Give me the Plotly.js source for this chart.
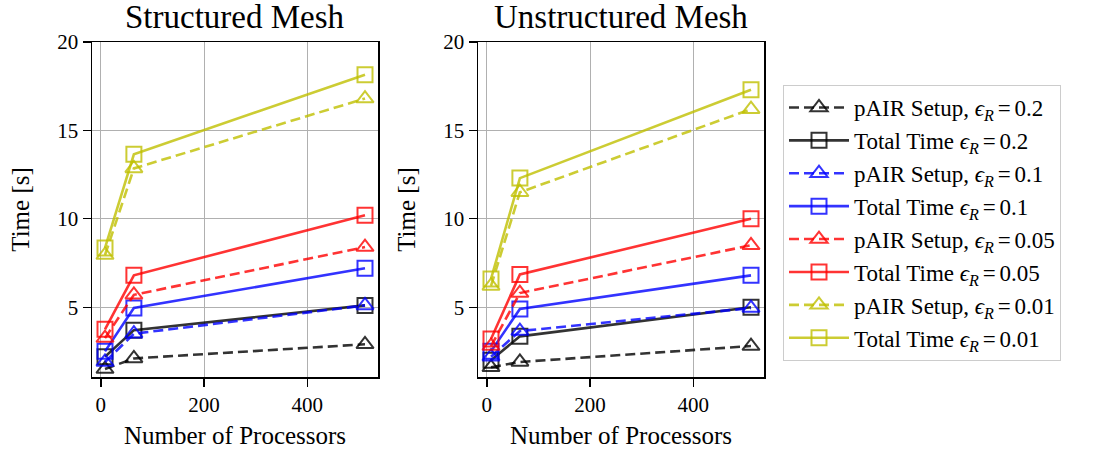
<!DOCTYPE html>
<html>
<head>
<meta charset="utf-8">
<script src="https://cdn.plot.ly/plotly-3.0.1.min.js"></script>
<style>html,body{margin:0;padding:0;background:#fff;}#chart{width:1098px;height:454px;}</style>
</head>
<body>
<div id="chart"></div>
<script>
// Data
const processors = [8, 64, 512];
const epsilons = ["0.2", "0.1", "0.05", "0.01"];

// Structured mesh
const structPairSetup = {
  "0.2":  [1.5, 2.1, 2.9],
  "0.1":  [1.9, 3.5, 5.1],
  "0.05": [3.25, 5.7, 8.4],
  "0.01": [7.95, 12.85, 16.8]
};
const structTotal = {
  "0.2":  [2.2, 3.7, 5.1],
  "0.1":  [2.5, 4.95, 7.2],
  "0.05": [3.75, 6.8, 10.2],
  "0.01": [8.35, 13.65, 18.15]
};
// Unstructured mesh
const unstructPairSetup = {
  "0.2":  [1.6, 1.9, 2.8],
  "0.1":  [2.2, 3.65, 4.95],
  "0.05": [2.8, 5.8, 8.5],
  "0.01": [6.2, 11.5, 16.2]
};
const unstructTotal = {
  "0.2":  [2.0, 3.35, 5.0],
  "0.1":  [2.5, 4.9, 6.8],
  "0.05": [3.2, 6.85, 10.0],
  "0.01": [6.6, 12.3, 17.3]
};

const xTicks = [0, 200, 400];
const yTicks = [5, 10, 15, 20];

const colors = {
  "0.2": "rgba(0,0,0,0.8)",
  "0.1": "rgba(0,0,255,0.8)",
  "0.05": "rgba(255,0,0,0.8)",
  "0.01": "rgba(191,191,0,0.8)"
};

const W = 1098, H = 454;
const serif = "'Liberation Serif', 'DejaVu Serif', serif";
const traces = [];
const eq = "\u2006=\u2006";

function addSet(pair, total, xa, ya, showLegend) {
  epsilons.forEach(function (e) {
    traces.push({
      x: processors, y: pair[e], xaxis: xa, yaxis: ya,
      mode: "lines+markers", type: "scatter",
      name: "pAIR Setup, <i>ϵ<sub>R</sub></i>" + eq + e,
      legendgroup: "p" + e, showlegend: showLegend,
      line: {color: colors[e], width: 2.6, dash: "10px,5px"},
      marker: {symbol: "triangle-up-open", size: 15, color: colors[e], line: {width: 2, color: colors[e]}}
    });
    traces.push({
      x: processors, y: total[e], xaxis: xa, yaxis: ya,
      mode: "lines+markers", type: "scatter",
      name: "Total Time <i>ϵ<sub>R</sub></i>" + eq + e,
      legendgroup: "t" + e, showlegend: showLegend,
      line: {color: colors[e], width: 2.6},
      marker: {symbol: "square-open", size: 15, color: colors[e], line: {width: 2, color: colors[e]}}
    });
  });
}
addSet(structPairSetup, structTotal, "x", "y", true);
addSet(unstructPairSetup, unstructTotal, "x2", "y2", false);

function xAxis(d, anchor) {
  return {
    domain: d, anchor: anchor, range: [-17.2, 537.2],
    tickvals: xTicks, ticks: "outside", ticklen: 8, tickwidth: 1.3, tickcolor: "#000",
    showline: true, linecolor: "#000", linewidth: 1.5, mirror: true,
    showgrid: true, gridcolor: "#b0b0b0", gridwidth: 1, zeroline: false,
    tickfont: {family: serif, size: 21, color: "#000"},
    title: {text: "Number of Processors", font: {family: serif, size: 25, color: "#000"}, standoff: 11}
  };
}
function yAxis(anchor) {
  return {
    domain: [1 - 377 / H, 1 - 42 / H], anchor: anchor, range: [1.05, 20],
    tickvals: yTicks, ticks: "outside", ticklen: 8, tickwidth: 1.3, tickcolor: "#000",
    showline: true, linecolor: "#000", linewidth: 1.5, mirror: true,
    showgrid: true, gridcolor: "#b0b0b0", gridwidth: 1, zeroline: false,
    tickfont: {family: serif, size: 21, color: "#000"},
    title: {text: "Time [s]", font: {family: serif, size: 25, color: "#000"}, standoff: 20}
  };
}

const layout = {
  width: W, height: H,
  margin: {l: 0, r: 0, t: 0, b: 0},
  paper_bgcolor: "#fff", plot_bgcolor: "#fff",
  showlegend: true,
  xaxis: xAxis([92 / W, 378 / W], "y"),
  yaxis: yAxis("x"),
  xaxis2: xAxis([478 / W, 764 / W], "y2"),
  yaxis2: yAxis("x2"),
  legend: {
    x: 783 / W, y: 1 - 85 / H, xanchor: "left", yanchor: "top",
    bordercolor: "#cccccc", borderwidth: 1, bgcolor: "#fff",
    font: {family: serif, size: 23, color: "#000"},
    tracegroupgap: 0, itemwidth: 60
  },
  annotations: [
    {text: "Structured Mesh", x: (92 + 378) / 2 / W, y: 1 - 17 / H, xref: "paper", yref: "paper",
     xanchor: "center", yanchor: "middle", showarrow: false, font: {family: serif, size: 33, color: "#000"}},
    {text: "Unstructured Mesh", x: (478 + 764) / 2 / W, y: 1 - 17 / H, xref: "paper", yref: "paper",
     xanchor: "center", yanchor: "middle", showarrow: false, font: {family: serif, size: 33, color: "#000"}}
  ]
};

Plotly.newPlot("chart", traces, layout, {displayModeBar: false, staticPlot: true});
</script>
</body>
</html>
